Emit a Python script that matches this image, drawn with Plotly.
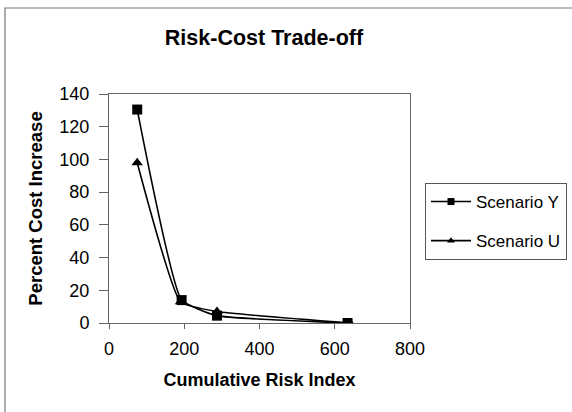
import plotly.graph_objects as go

risk_y = [75, 193, 287, 634]
cost_y = [130.5, 14, 4.5, 0]
risk_u = [75, 190, 287, 640]
cost_u = [98, 13, 7, 0]
x_ticks = [0, 200, 400, 600, 800]
y_ticks = [0, 20, 40, 60, 80, 100, 120, 140]

font = "Liberation Sans, Arial, sans-serif"

fig = go.Figure()
fig.add_trace(go.Scatter(x=risk_y, y=cost_y, name="Scenario Y", mode="lines+markers",
                         line=dict(color="black", width=1.6, shape="spline", smoothing=0.4),
                         marker=dict(symbol="square", size=10, color="black"), showlegend=False))
fig.add_trace(go.Scatter(x=risk_u, y=cost_u, name="Scenario U", mode="lines+markers",
                         line=dict(color="black", width=1.6, shape="spline", smoothing=0.4),
                         marker=dict(symbol="triangle-up", size=10, color="black"), showlegend=False))
# legend entries (smaller markers like the reference legend)
fig.add_trace(go.Scatter(x=[None], y=[None], name="Scenario Y", mode="lines+markers",
                         legendgroup="y", line=dict(color="black", width=1.6),
                         marker=dict(symbol="square", size=7, color="black")))
fig.add_trace(go.Scatter(x=[None], y=[None], name="Scenario U", mode="lines+markers",
                         legendgroup="u", line=dict(color="black", width=1.6),
                         marker=dict(symbol="triangle-up", size=7, color="black")))

W, H = 572, 412
L, R, T, B = 109, 162, 94, 89
pw, ph = W - L - R, H - T - B

def px(x):
    return (x - L) / pw

def py(y):
    return (H - B - y) / ph

fig.update_layout(
    width=W, height=H,
    margin=dict(l=L, r=R, t=T, b=B, autoexpand=False),
    paper_bgcolor="white", plot_bgcolor="white",
    font=dict(family=font, size=18, color="black"),
    title=dict(text="<b>Risk-Cost Trade-off</b>", x=px(264), xref="paper", xanchor="center",
               y=1 - 37 / H, yanchor="middle", font=dict(size=21.5)),
    xaxis=dict(range=[0, 800], tickvals=x_ticks, showgrid=False, zeroline=False,
               showline=True, linecolor="#666", linewidth=1, mirror=True,
               ticks="outside", ticklen=5, tickcolor="#666", ticklabelstandoff=4,
               title=dict(text="<b>Cumulative Risk Index</b>", font=dict(size=18), standoff=15)),
    yaxis=dict(range=[0, 140], tickvals=y_ticks, showgrid=False, zeroline=False,
               showline=True, linecolor="#666", linewidth=1, mirror=True,
               ticks="outside", ticklen=9, tickcolor="#666", ticklabelstandoff=6,
               title=dict(text="<b>Percent Cost Increase</b>", font=dict(size=18.5), standoff=11)),
    legend=dict(x=px(425), y=py(183), xanchor="left", yanchor="top",
                bordercolor="#555", borderwidth=1, bgcolor="white",
                font=dict(size=17), tracegroupgap=14, itemwidth=40,
                traceorder="grouped"),
    showlegend=True,
)

fig.add_shape(type="rect", xref="paper", yref="paper",
              x0=px(5), x1=px(590), y0=py(430), y1=py(8),
              line=dict(color="#777", width=1.2), layer="below")

fig.write_html("out.html")
